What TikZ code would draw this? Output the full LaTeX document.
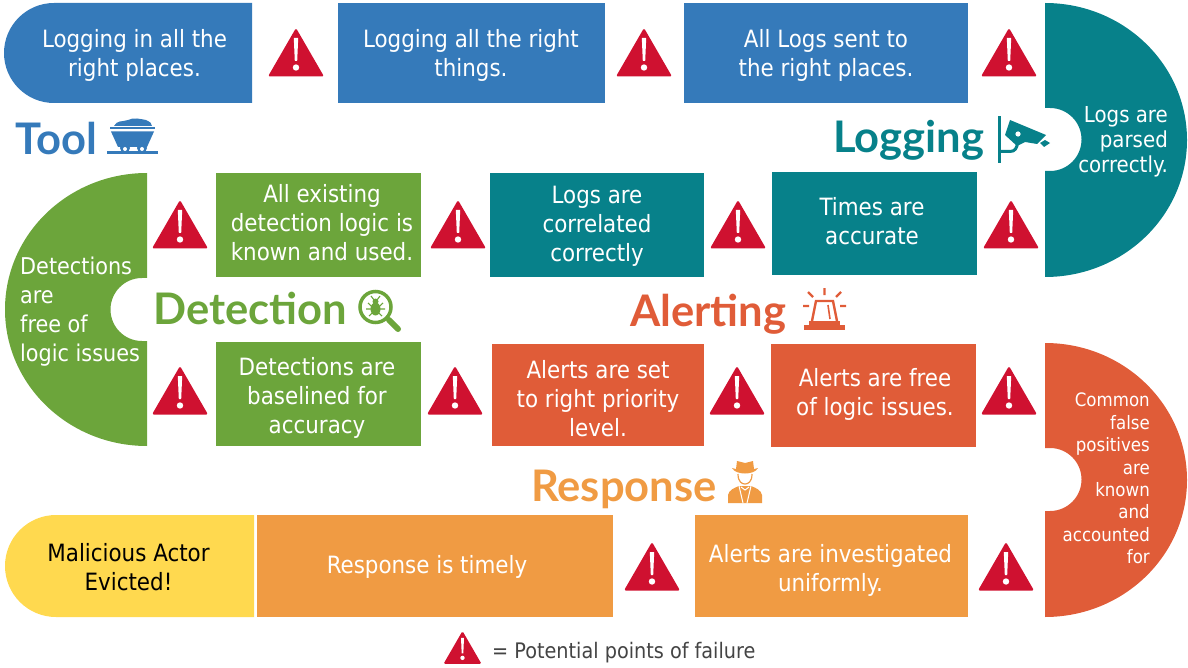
\documentclass[tikz,border=0pt]{standalone}
\usepackage{fontspec}
\setmainfont{DejaVu Sans Condensed}
\newfontfamily\headfont{Lato}
\usepackage{xcolor}
\usepackage{tikz}
\usetikzlibrary{positioning}
\definecolor{toolblue}{HTML}{357ABA}
\definecolor{logteal}{HTML}{07818A}
\definecolor{detectgreen}{HTML}{6CA53B}
\definecolor{alertred}{HTML}{E05C38}
\definecolor{respondorange}{HTML}{F09B43}
\definecolor{evictyellow}{HTML}{FFD94F}
\definecolor{warnred}{HTML}{CF1130}
\definecolor{darkgrey}{HTML}{444444}
\tikzset{
  stagebox/.style={
    rectangle, fill=#1, inner sep=0pt
  },
  stagetext/.style={
    text=white, align=center, inner sep=0pt,
    font=\fontsize{23.8}{29}\selectfont
  },
  phasehead/.style={
    text=#1, inner sep=0pt, anchor=base west,
    font=\fontsize{43.5}{43.5}\selectfont\headfont\bfseries
  },
  warnsign/.pic={
    \fill[warnred, rounded corners=1.5pt] (0,-25) -- (28,23.5) -- (-28,23.5) -- cycle;
    \fill[white] (-2.2,-15) -- (2.2,-15) -- (1.2,8) -- (-1.2,8) -- cycle;
    \fill[white] (0,14.5) circle [radius=3.2];
  },
}
\begin{document}
\begin{tikzpicture}[x=1pt,y=-1pt]
  \useasboundingbox (0,0) rectangle (1188,668);

  %% Square boxes
  \foreach \nm/\colr/\x/\y/\w/\h in {
      tooltwo/toolblue/471.5/53/267/100, toolthree/toolblue/826/53/284/100,
      logtwo/logteal/874.5/223.5/205/103, logthree/logteal/597/225/214/104,
      detectone/detectgreen/318.5/225/205/104, detectthree/detectgreen/318.5/394/205/104,
      alertone/alertred/598/395/212/102, alerttwo/alertred/873.5/395.5/205/103,
      respondone/respondorange/831.5/566/273/102, respondtwo/respondorange/435/566/356/102} {
    \node[stagebox=\colr, minimum width=\w pt, minimum height=\h pt] (\nm) at (\x,\y) {};
  }

  %% Rounded ends
  \fill[toolblue] (54,3) -- (252,3) -- (252,103) -- (54,103) arc[start angle=90,end angle=270,radius=50] -- cycle;
  \fill[evictyellow] (56,515) -- (254,515) -- (254,617) -- (56,617) arc[start angle=90,end angle=270,radius=51] -- cycle;

  %% Turns with a notch
  \fill[logteal] (1045,3) arc[start angle=-90,end angle=90,x radius=142,y radius=137]
    -- (1045,171) -- (1050,171) arc[start angle=90,end angle=-90,radius=31.5] -- (1045,108) -- cycle;
  \fill[detectgreen] (147,173) arc[start angle=-90,end angle=-270,x radius=142,y radius=136.5]
    -- (147,341) -- (142,341) arc[start angle=90,end angle=270,radius=31.5] -- (147,278) -- cycle;
  \fill[alertred] (1045,343) arc[start angle=-90,end angle=90,x radius=142,y radius=137]
    -- (1045,511) -- (1050,511) arc[start angle=90,end angle=-90,radius=31.5] -- (1045,448) -- cycle;

  %% Tool row
  \node[stagetext] (tooltxta) at (134.5,55) {Logging in all the\\right places.};
  \node[stagetext] (tooltxtb) at (471,55) {Logging all the right\\things.};
  \node[stagetext] (tooltxtc) at (826,55) {All Logs sent to\\the right places.};

  %% Logging row
  \node[stagetext, align=right, anchor=east, font=\fontsize{22}{25}\selectfont] (logtxta) at (1168,142) {Logs are\\parsed\\correctly.};
  \node[stagetext] (logtxtb) at (872,221.5) {Times are\\accurate};
  \node[stagetext] (logtxtc) at (597,226) {Logs are\\correlated\\correctly};

  %% Detection rows
  \node[stagetext] (detecttxta) at (322,223) {All existing\\detection logic is\\known and used.};
  \node[stagetext, align=left, anchor=west, font=\fontsize{23.1}{29}\selectfont] (detecttxtb) at (20,311.5) {Detections\\are\\free of\\logic issues};
  \node[stagetext] (detecttxtc) at (317,397.5) {Detections are\\baselined for\\accuracy};

  %% Alerting rows
  \node[stagetext] (alerttxta) at (598,398.5) {Alerts are set\\to right priority\\level.};
  \node[stagetext] (alerttxtb) at (875,394.5) {Alerts are free\\of logic issues.};
  \node[stagetext, align=right, anchor=east, font=\fontsize{18.5}{22.4}\selectfont] (alerttxtc) at (1150,478.5) {Common\\false\\positives\\are\\known\\and\\accounted\\for};

  %% Response row
  \node[stagetext] (respondtxta) at (830.5,570) {Alerts are investigated\\uniformly.};
  \node[stagetext] (respondtxtb) at (427,567) {Response is timely};
  \node[stagetext, text=black] (evicted) at (128.5,567) {Malicious Actor\\Evicted!};

  %% Warning signs
  \foreach \nm/\x/\y in {warna/296/53, warnb/644/53, warnc/1009/53,
                         warnd/1011/225, warne/738/225, warnf/458/225, warng/180/225,
                         warnh/180/391, warni/455/391, warnj/737/391, warnk/1009/391,
                         warnl/1006/567, warnm/652/567} {
    \pic (\nm) at (\x,\y) {warnsign};
  }

  %% Headings
  \node[phasehead=toolblue] (toolhead) at (15,155) {Tool};
  \node[phasehead=logteal] (loghead) at (833,153) {Logging};
  \node[phasehead=detectgreen] (detecthead) at (153,324) {Detection};
  \node[phasehead=alertred] (alerthead) at (630,326) {Alerting};
  \node[phasehead=respondorange] (respondhead) at (531,501) {Response};

  %% Cart icon
  \fill[toolblue] (114,126) .. controls (117,120) and (122,122) .. (128,120)
    .. controls (134,117) and (140,119) .. (146,120) .. controls (150,122) and (152,123) .. (152,126) -- cycle;
  \fill[toolblue] (110,127) rectangle (155,129.5);
  \fill[toolblue] (111,131.5) -- (154,131.5) -- (147,147) -- (118,147) -- cycle;
  \fill[toolblue] (125,148) circle [radius=5];
  \fill[toolblue] (142,148) circle [radius=5];
  \fill[white] (125,149) circle [radius=2];
  \fill[white] (142,149) circle [radius=2];
  \draw[toolblue, line width=2.2pt] (107,152.5) -- (158,152.5);

  %% Camera icon
  \fill[logteal] (997.5,116) rectangle (1000.5,163);
  \fill[logteal] (1010,120) -- (1046,135) -- (1037,144) -- (1025,142) -- (1017,146) -- (1005,135) -- cycle;
  \fill[white] (1018,134) circle [radius=2.6];
  \fill[logteal] (1040,143) -- (1045,140) -- (1050,143) -- (1044,147) -- cycle;
  \draw[logteal, line width=3pt] (999,151.5) -- (1010,151.5) .. controls (1015,151.5) and (1017,148) .. (1017.5,143);

  %% Magnifier icon
  \draw[detectgreen, line width=3.5pt] (375.5,307) circle [radius=15.5];
  \draw[detectgreen, line width=6pt, line cap=round] (389,320) -- (398,329);
  \fill[detectgreen] (375.5,309) ellipse [x radius=5,y radius=6.5];
  \fill[detectgreen] (375.5,301.5) circle [radius=3];
  \draw[detectgreen, line width=1.1pt] (368,303) -- (382,316) (383,303) -- (369,316) (366,309) -- (385,309)
    (371,296) -- (374,300) (380,296) -- (377,300);

  %% Siren icon
  \fill[alertred] (804,325) rectangle (845,330);
  \fill[alertred] (809,321) rectangle (840,325);
  \draw[alertred, line width=2.4pt] (812,321) -- (816,301) -- (833,301) -- (837,321);
  \draw[alertred, line width=1.6pt] (828,305) -- (830,319);
  \draw[alertred, line width=2.4pt] (824.5,288) -- (824.5,295) (808,292) -- (813,297) (841,292) -- (836,297)
    (803,306) -- (809,306) (840,306) -- (846,306);

  %% Spy icon
  \fill[respondorange] (736,469) -- (737,461) -- (745,463) -- (753,461) -- (754,469) -- (758,468)
    .. controls (756,472) and (750,473.5) .. (745,473.5) .. controls (740,473.5) and (734,472) .. (732,468) -- cycle;
  \draw[respondorange, line width=1.2pt] (738,474) .. controls (738,482) and (742,484) .. (745,484)
    .. controls (748,484) and (752,482) .. (752,474);
  \fill[respondorange] (728,503) -- (728,495) .. controls (729,490) and (734,488) .. (739,486)
    -- (751,486) .. controls (756,488) and (761,490) .. (762,495) -- (762,503) -- cycle;
  \draw[white, line width=1pt] (739,486) -- (743,503) (751,486) -- (747,503)
    (741,487) -- (745,490) -- (749,487);

  %% Legend
  \pic[scale=0.68] (legendwarn) at (462.5,648) {warnsign};
  \node[text=darkgrey, anchor=west, inner sep=0pt, font=\fontsize{21.4}{24}\selectfont] (legendtext) at (492,653) {= Potential points of failure};
\end{tikzpicture}
\end{document}
